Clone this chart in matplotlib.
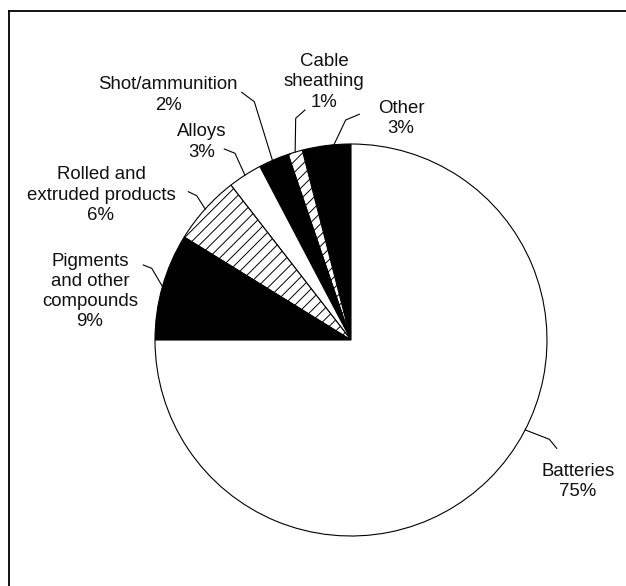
import numpy as np
import matplotlib
matplotlib.use('Agg')
import matplotlib.pyplot as plt

plt.rcParams['font.family'] = ['Liberation Sans', 'DejaVu Sans']
plt.rcParams['hatch.linewidth'] = 0.7

# donnees (ordre anti-horaire depuis midi)
categories = ['Other', 'Cable sheathing', 'Shot/ammunition', 'Alloys',
              'Rolled and extruded products', 'Pigments and other compounds', 'Batteries']
parts = [4.0, 1.2, 2.5, 2.8, 5.7, 8.8, 75.0]
labels = ['Other\n3%', 'Cable\nsheathing\n1%', 'Shot/ammunition\n2%', 'Alloys\n3%',
          'Rolled and\nextruded products\n6%', 'Pigments\nand other\ncompounds\n9%',
          'Batteries\n75%']

# style des parts
faces = ['black', 'white', 'black', 'white', 'white', 'black', 'white']
hatches = ['', '///', '', '', '///', '', '']

W, H = 626, 586
def px(x, y):
    # coordonnees pixel (origine en haut) -> donnees
    return x, H - y

# position des etiquettes (pixels) : centre du texte, coude et bout du trait
txt_pos = [(401, 118.5), (324, 82), (168, 95), (202, 142), (101, 195), (90, 291.5), (578, 481.5)]
elbow = [(345.7, 120), (295.7, 118.3), (254.3, 101.7), (235, 153.3), (196.7, 195.7), (151.7, 268.3), (549.3, 439.3)]
tip = [(359.3, 114.3), (305, 110), (241.7, 92.3), (224.3, 149), (188.3, 191.7), (143.3, 265), (556.7, 448.3)]
ang_off = [-2.2, 0, 0.4, 0, 0, 0, 17.7]

fig = plt.figure(figsize=(W/100, H/100), dpi=100)
ax = fig.add_axes([0, 0, 1, 1])
cx, cy = px(351, 340)
R = 196
wedges, _ = ax.pie(parts, startangle=90, counterclock=True, center=(cx, cy), radius=R,
                   colors=faces, wedgeprops=dict(edgecolor='black', linewidth=0.8),
                   frame=True)
for w, h in zip(wedges, hatches):
    w.set_hatch(h)

for i, w in enumerate(wedges):
    a = np.deg2rad((w.theta1 + w.theta2)/2 + ang_off[i])
    x0, y0 = cx + R*np.cos(a), cy + R*np.sin(a)
    xs = [x0, px(*elbow[i])[0], px(*tip[i])[0]]
    ys = [y0, px(*elbow[i])[1], px(*tip[i])[1]]
    ax.plot(xs, ys, color='black', lw=0.8)
    tx, ty = px(*txt_pos[i])
    ax.text(tx, ty, labels[i], ha='center', va='center', fontsize=13.4,
            linespacing=1.25, color='#111111')

# cadre
ax.plot([8.5, 8.5], [0, H - 10.5], color='black', lw=1.3)
ax.plot([8.5, W], [H - 10.5, H - 10.5], color='black', lw=1.3)

ax.set_xlim(0, W)
ax.set_ylim(0, H)
ax.set_aspect('equal')
ax.axis('off')

plt.savefig('out.png', dpi=100)
